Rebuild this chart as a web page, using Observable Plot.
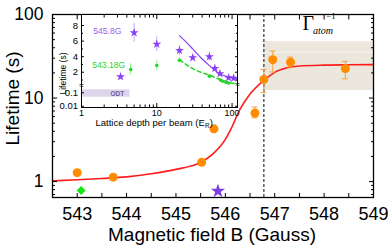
<!DOCTYPE html>
<html><head><meta charset="utf-8">
<script src="https://cdn.jsdelivr.net/npm/d3@7"></script>
<script src="https://cdn.jsdelivr.net/npm/@observablehq/plot@0.6"></script>
<style>
html,body{margin:0;padding:0;background:#fff;}
#wrap{position:relative;width:391px;height:245px;overflow:hidden;}
#wrap svg{position:absolute;left:0;top:0;}
</style></head><body><div id="wrap"></div>
<script>
// ---------- main chart data ----------
const fieldB     = [543.0, 543.73, 545.52, 545.77, 546.6, 546.78, 546.96, 547.32, 548.43];
const lifetime   = [1.28, 1.13, 1.70, 4.28, 6.6, 16.7, 28.8, 26.9, 22.5];
const lifetimeLo = [1.28, 1.05, 1.62, 3.95, 5.8, 11.6, 20.5, 23.5, 17.0];
const lifetimeHi = [1.28, 1.21, 1.78, 4.6, 7.8, 22.0, 36.5, 30.9, 27.5];
const fitB        = [542.5, 543.0, 543.5, 544.0, 544.5, 545.0, 545.5, 545.75, 546.0, 546.1, 546.3, 546.5, 546.78, 547.0, 547.25, 547.5, 548.0, 548.5, 549.0];
const fitLifetime = [1.02, 1.05, 1.09, 1.14, 1.24, 1.40, 1.70, 2.15, 3.2, 4.1, 7.4, 11.2, 16.3, 20.3, 23.0, 24.2, 24.8, 25.0, 25.1];
const greenB = [543.08], greenLifetime = [0.78];
const purpleB = [545.85], purpleLifetime = [0.77];
const resonanceB = [546.78];
const bandB = [546.78, 549.0], bandLifetime = [12.3, 47.2], bandMid = [35.5];
const xTickLabels = [543, 544, 545, 546, 547, 548, 549];
const xTickMarks = [543, 543.5, 544, 544.5, 545, 545.5, 546, 546.5, 547, 547.5, 548, 548.5];
const yTickLabels = [1, 10, 100];
const yMinorTicks = [0.7, 0.8, 0.9, 2, 3, 4, 5, 6, 7, 8, 9, 20, 30, 40, 50, 60, 70, 80, 90];

// ---------- inset data ----------
const depthPurple    = [3.3, 5.0, 10, 20, 30, 50, 59, 69, 90, 105];
const lifePurple     = [1.42, 7.07, 5.6, 4.8, 3.86, 4.0, 2.5, 1.8, 1.3, 1.23];
const errPurple      = [0.15, 1.2, 0.95, 0.65, 0.3, 0.6, 0.45, 0.2, 0.15, 0.15];
const depthGreen     = [4.5, 10, 20, 50, 70, 75, 83, 90];
const lifeGreen      = [2.35, 2.87, 3.55, 1.5, 1.0, 0.85, 0.7, 0.62];
const errGreen       = [0.75, 0.73, 0.3, 0.1, 0.1, 0.1, 0.1, 0.1];
const fitDepthPurple = [20, 25, 30, 40, 50, 66, 85, 118];
const fitLifePurple  = [6.7, 5.8, 5.0, 3.7, 2.85, 1.9, 1.45, 1.15];
const fitDepthGreen  = [20, 31, 52, 77, 118];
const fitLifeGreen   = [3.6, 2.4, 1.55, 0.9, 0.45];
const odtDepth = [1, 4.4], odtLife = [0.047, 0.167];
const insetXTicks = [1, 10, 100];
const insetXMinor = [2, 3, 4, 5, 6, 7, 8, 9, 20, 30, 40, 50, 60, 70, 80, 90];
const insetYTicks = [0.01, 0.1, 2, 4, 6, 8];
const insetYTickLabels = ["0.01", "0.1", "2", "4", "6", "8"];
const insetYMinor = [1, 3, 5, 7];

// ---------- tables ----------
const pts = fieldB.map((b, i) => ({b, t: lifetime[i], lo: lifetimeLo[i], hi: lifetimeHi[i]}));
const fit = fitB.map((b, i) => ({b, t: fitLifetime[i]}));
const band = [{b1: bandB[0], b2: bandB[1], lo: bandLifetime[0], hi: bandLifetime[1], mid: bandMid[0]}];
const green = greenB.map((b, i) => ({b, t: greenLifetime[i]}));
const purple = purpleB.map((b, i) => ({b, t: purpleLifetime[i]}));

const FONT = "Liberation Sans, Arial, Helvetica, sans-serif";
const SERIF = "Liberation Serif, Times New Roman, serif";

const main = Plot.plot({
  width: 391, height: 245,
  marginLeft: 52, marginRight: 18, marginTop: 14, marginBottom: 48,
  style: {fontFamily: FONT, background: "white", color: "black", overflow: "visible"},
  x: {domain: [542.5, 549]},
  y: {type: "log", domain: [0.645, 100]},
  marks: [
    Plot.rect(band, {x1: "b1", x2: "b2", y1: "lo", y2: "hi", fill: "#ebe7dc"}),
    Plot.ruleY(band, {x1: "b1", x2: "b2", y: "mid", stroke: "#f7f5f0", strokeWidth: 1}),
    Plot.ruleX(resonanceB, {stroke: "#333", strokeDasharray: "3,2", strokeWidth: 1.2}),
    Plot.line(fit, {x: "b", y: "t", stroke: "#ff1c1c", strokeWidth: 1.6, curve: "monotone-x"}),
    Plot.ruleX(pts, {x: "b", y1: "lo", y2: "hi", stroke: "#f7a242", strokeWidth: 1}),
    Plot.ruleY(pts, {x1: "b", x2: "b", y: "lo", insetLeft: -3, insetRight: -3, stroke: "#f7a242", strokeWidth: 1}),
    Plot.ruleY(pts, {x1: "b", x2: "b", y: "hi", insetLeft: -3, insetRight: -3, stroke: "#f7a242", strokeWidth: 1}),
    Plot.dot(pts, {x: "b", y: "t", r: 4.5, fill: "#ff8c00"}),
    Plot.dot(green, {x: "b", y: "t", symbol: "square", rotate: 45, r: 3.6, fill: "#14e614"}),
    Plot.dot(purple, {x: "b", y: "t", symbol: "star", r: 4.5, fill: "#7a3ce6"}),
    Plot.frame({stroke: "black", strokeWidth: 1.3}),
    Plot.axisX({ticks: xTickLabels, anchor: "bottom", tickSize: 0, tickPadding: 10, fontSize: 18, label: null, tickFormat: d => String(d)}),
    Plot.axisX({ticks: xTickMarks, anchor: "bottom", tickSize: -4, tickFormat: () => "", label: null}),
    Plot.axisX({ticks: xTickMarks, anchor: "top", tickSize: -4.5, tickFormat: () => "", label: null}),
    Plot.axisY({ticks: yTickLabels, anchor: "left", tickSize: 0, tickPadding: 9, fontSize: 17.5, label: null, tickFormat: d => String(d)}),
    Plot.axisY({ticks: yTickLabels, anchor: "left", tickSize: -5, tickFormat: () => "", label: null}),
    Plot.axisY({ticks: yMinorTicks, anchor: "left", tickSize: -3, tickFormat: () => "", label: null}),
    Plot.axisY({ticks: yTickLabels, anchor: "right", tickSize: -5, tickFormat: () => "", label: null}),
    Plot.axisY({ticks: yMinorTicks, anchor: "right", tickSize: -3, tickFormat: () => "", label: null}),
    Plot.text(["Magnetic field B (Gauss)"], {text: d => d, frameAnchor: "bottom", dy: 43, dx: -1, lineAnchor: "bottom", fontSize: 19}),
    Plot.text(["Lifetime (s)"], {text: d => d, frameAnchor: "left", textAnchor: "middle", rotate: -90, dx: -33.5, dy: -7.5, lineAnchor: "bottom", fontSize: 19}),
    Plot.text(["Γ"], {text: d => d, frameAnchor: "top-right", textAnchor: "start", dx: -71, dy: 15.5, lineAnchor: "bottom", fontSize: 20, fontFamily: SERIF}),
    Plot.text(["atom"], {text: d => d, frameAnchor: "top-right", textAnchor: "start", dx: -60.5, dy: 19, lineAnchor: "bottom", fontSize: 10, fontStyle: "italic", fontFamily: SERIF}),
    Plot.text(["−1"], {text: d => d, frameAnchor: "top-right", textAnchor: "start", dx: -47, dy: 4.5, lineAnchor: "bottom", fontSize: 8.5, fontFamily: SERIF})
  ]
});

// ---------- inset ----------
const iPurple = depthPurple.map((x, i) => ({x, y: lifePurple[i], lo: lifePurple[i] - errPurple[i], hi: lifePurple[i] + errPurple[i]}));
const iGreen = depthGreen.map((x, i) => ({x, y: lifeGreen[i], lo: lifeGreen[i] - errGreen[i], hi: lifeGreen[i] + errGreen[i]}));
const iFitP = fitDepthPurple.map((x, i) => ({x, y: fitLifePurple[i]}));
const iFitG = fitDepthGreen.map((x, i) => ({x, y: fitLifeGreen[i]}));
const odt = [{x1: odtDepth[0], x2: odtDepth[1], y1: odtLife[0], y2: odtLife[1]}];
const odtLabel = [{x: 3.0, y: 0.09, text: "ODT"}];

const PURPLE = "#8a3ff5", GREEN = "#22d622";
// broken axis: linear above the break, log below it
const brokenY = v => v >= 0.25 ? v : -0.64 + 1.73 * (Math.log10(v) + 1);
// axis ticks are given in the scale's (transformed) space
const insetYTickPos = insetYTicks.map(brokenY);
const insetYLabelOf = new Map(insetYTickPos.map((p, i) => [p, insetYTickLabels[i]]));

const inset = Plot.plot({
  width: 391, height: 245,
  marginLeft: 81, marginRight: 154, marginTop: 14, marginBottom: 138,
  style: {fontFamily: FONT, background: "transparent", color: "black", overflow: "visible"},
  x: {type: "log", domain: [1, 118]},
  y: {type: "linear", domain: [-2.53, 9.42], transform: brokenY},
  marks: [
    Plot.frame({fill: "white", stroke: null}),
    Plot.rect(odt, {x1: "x1", x2: "x2", y1: "y1", y2: "y2", fill: "#ddd6ea"}),
    Plot.text(odtLabel, {x: "x", y: "y", text: "text", fontSize: 6.5, fontWeight: "bold", fill: "#6b5a9e"}),
    Plot.line(iFitP, {x: "x", y: "y", stroke: PURPLE, strokeWidth: 1.2, curve: "monotone-x"}),
    Plot.line(iFitG, {x: "x", y: "y", stroke: GREEN, strokeWidth: 1.5, strokeDasharray: "4,3", curve: "monotone-x"}),
    Plot.ruleX(iPurple, {x: "x", y1: "lo", y2: "hi", stroke: "#b58af7", strokeWidth: 0.8}),
    Plot.ruleX(iGreen, {x: "x", y1: "lo", y2: "hi", stroke: "#7fe87f", strokeWidth: 0.8}),
    Plot.dot(iGreen, {x: "x", y: "y", r: 1.8, fill: GREEN}),
    Plot.dot(iPurple, {x: "x", y: "y", symbol: "star", r: 2.8, fill: PURPLE}),
    Plot.text(["545.8G"], {text: d => d, frameAnchor: "top-left", textAnchor: "start", dx: 11.7, dy: 16.5, lineAnchor: "middle", fontSize: 8.6, fill: "#9a5cf0"}),
    Plot.text(["543.18G"], {text: d => d, frameAnchor: "top-left", textAnchor: "start", dx: 10.7, dy: 50.3, lineAnchor: "middle", fontSize: 8.6, fill: "#2ad62a"}),
    Plot.frame({stroke: "black", strokeWidth: 1}),
    Plot.text(["≈"], {text: d => d, frameAnchor: "left", textAnchor: "middle", dy: 24.5, lineAnchor: "middle", fontSize: 8}),
    Plot.text(["≈"], {text: d => d, frameAnchor: "right", textAnchor: "middle", dy: 23.5, lineAnchor: "middle", fontSize: 8}),
    Plot.axisX({ticks: insetXTicks, anchor: "bottom", tickSize: 0, tickPadding: 2, fontSize: 9, label: null, tickFormat: d => String(d)}),
    Plot.axisX({ticks: insetXTicks, anchor: "bottom", tickSize: -4, tickFormat: () => "", label: null}),
    Plot.axisX({ticks: insetXMinor, anchor: "bottom", tickSize: -2.5, tickFormat: () => "", label: null}),
    Plot.axisX({ticks: insetXTicks, anchor: "top", tickSize: -4, tickFormat: () => "", label: null}),
    Plot.axisX({ticks: insetXMinor, anchor: "top", tickSize: -2.5, tickFormat: () => "", label: null}),
    Plot.axisY({ticks: insetYTickPos, anchor: "left", tickSize: 0, tickPadding: 3.5, fontSize: 9.5, label: null, tickFormat: d => insetYLabelOf.get(d)}),
    Plot.axisY({ticks: insetYTickPos, anchor: "left", tickSize: -3, tickFormat: () => "", label: null}),
    Plot.axisY({ticks: insetYMinor, anchor: "left", tickSize: -2, tickFormat: () => "", label: null}),
    Plot.axisY({ticks: insetYTickPos, anchor: "right", tickSize: -3, tickFormat: () => "", label: null}),
    Plot.axisY({ticks: insetYMinor, anchor: "right", tickSize: -2, tickFormat: () => "", label: null}),
    Plot.text(["Lifetime (s)"], {text: d => d, frameAnchor: "left", textAnchor: "middle", rotate: -90, dx: -16, dy: 12.5, lineAnchor: "bottom", fontSize: 8.5}),
    Plot.text(["Lattice depth per beam (E"], {text: d => d, frameAnchor: "bottom-left", textAnchor: "start", dx: 14, dy: 18, lineAnchor: "bottom", fontSize: 9.5}),
    Plot.text(["R"], {text: d => d, frameAnchor: "bottom-left", textAnchor: "start", dx: 123.5, dy: 20, lineAnchor: "bottom", fontSize: 6.3}),
    Plot.text([")"], {text: d => d, frameAnchor: "bottom-left", textAnchor: "start", dx: 128.3, dy: 18, lineAnchor: "bottom", fontSize: 9.5})
  ]
});

const wrap = document.getElementById("wrap");
wrap.appendChild(main);
wrap.appendChild(inset);
</script>
</body></html>
